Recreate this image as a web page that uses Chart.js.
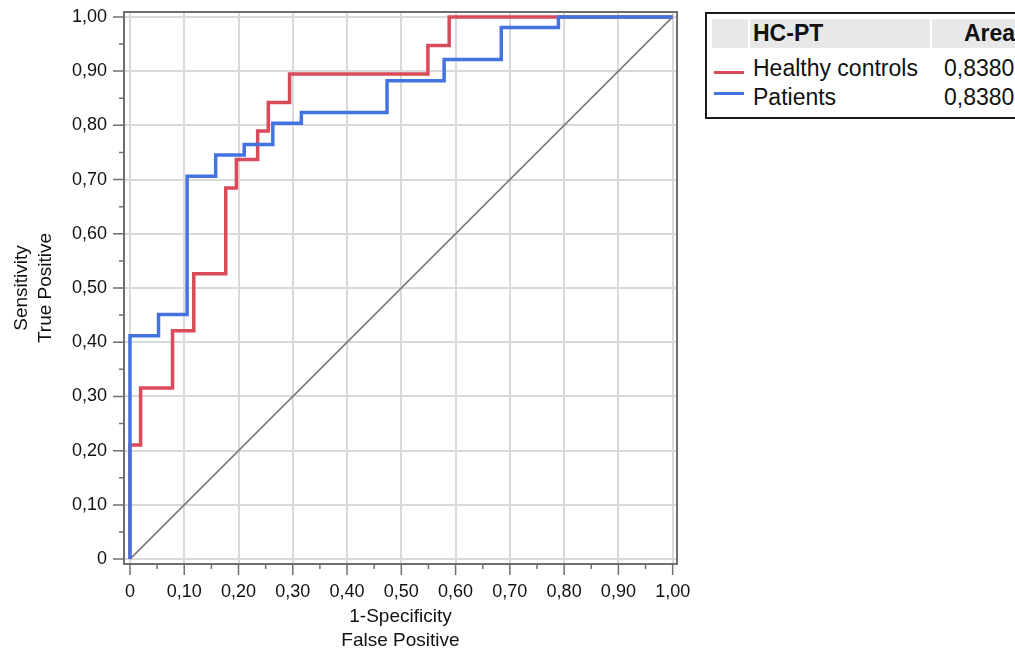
<!DOCTYPE html>
<html>
<head>
<meta charset="utf-8">
<script src="https://cdn.jsdelivr.net/npm/chart.js@4"></script>
<style>
    body { margin: 0; background: #fff; overflow: hidden; width: 1015px; height: 653px; font-family: "Liberation Sans", Arial, sans-serif; }
    #wrap { position: absolute; left: 0; top: 0; width: 700px; height: 653px; }
    #legenda { position: absolute; left: 705px; top: 12px; width: 420px; height: 107px; border: 2px solid #1a1a1a; box-sizing: border-box; }
    #legenda span { position: absolute; font-size: 23px; line-height: 23px; color: #111; white-space: nowrap; }
    .cab { position: absolute; top: 5px; height: 29px; background: #e8e8e8; }
    .amostra { position: absolute; left: 7px; width: 30px; height: 3px; }
</style>
</head>
<body>
<div id="wrap"><canvas id="roc"></canvas></div>
<div id="legenda"></div>

<script>
// Curvas ROC (1-especificidade, sensibilidade)
const fprHC = [0, 0, 0.0196, 0.0784, 0.1176, 0.1765, 0.1961, 0.2353, 0.2549, 0.2941, 0.5490, 0.5882, 1];
const tprHC = [0, 0.2105, 0.3158, 0.4211, 0.5263, 0.6842, 0.7368, 0.7895, 0.8421, 0.8947, 0.9474, 1, 1];
const fprPT = [0, 0, 0.0526, 0.1053, 0.1579, 0.2105, 0.2632, 0.3158, 0.4737, 0.5789, 0.6842, 0.7895, 1];
const tprPT = [0, 0.4118, 0.4510, 0.7059, 0.7451, 0.7647, 0.8039, 0.8235, 0.8824, 0.9216, 0.9804, 1, 1];
const diagonal = [0, 1];

// Legenda
const nomesSeries = ["Healthy controls", "Patients"];
const areas = ["0,8380", "0,8380"];
const coresSeries = ["#d94a5b", "#4373e0"];

// Ticks
const tickValores = [0, 0.1, 0.2, 0.3, 0.4, 0.5, 0.6, 0.7, 0.8, 0.9, 1];
const tickRotulos = ["0", "0,10", "0,20", "0,30", "0,40", "0,50", "0,60", "0,70", "0,80", "0,90", "1,00"];
const tickMenores = [0.05, 0.15, 0.25, 0.35, 0.45, 0.55, 0.65, 0.75, 0.85, 0.95];

function pontos(xs, ys) {
    return xs.map((x, i) => ({ x: x, y: ys[i] }));
}

function todosTicks() {
    return tickValores.concat(tickMenores).sort((a, b) => a - b).map((v) => ({ value: v }));
}

function rotulo(valor) {
    const i = tickValores.findIndex((v) => Math.abs(v - valor) < 1e-6);
    return i >= 0 ? tickRotulos[i] : "";
}

function corGrade(ctx) {
    const v = ctx.tick ? ctx.tick.value : 0;
    return tickValores.some((t) => Math.abs(t - v) < 1e-6) ? "#d9d9d9" : "rgba(0,0,0,0)";
}

// tira o espaço extra que o Chart.js reserva para os rótulos das pontas
function semPadding(scale) {
    scale.paddingTop = 0;
    scale.paddingBottom = 0;
    scale.paddingLeft = 0;
    scale.paddingRight = 0;
}

// moldura e marcas de tick (maiores e menores)
const molduraPlugin = {
    id: "moldura",
    beforeDatasetsDraw(chart) {
        const { ctx, chartArea, scales } = chart;
        ctx.save();
        ctx.strokeStyle = "#6f6f6f";
        ctx.lineWidth = 2;
        ctx.strokeRect(chartArea.left, chartArea.top, chartArea.right - chartArea.left, chartArea.bottom - chartArea.top);
        ctx.lineWidth = 1.5;
        ctx.beginPath();
        tickValores.concat(tickMenores).forEach((v) => {
            const maior = tickValores.includes(v);
            const len = maior ? 11 : 5;
            const px = scales.x.getPixelForValue(v);
            ctx.moveTo(px, chartArea.bottom);
            ctx.lineTo(px, chartArea.bottom + len);
            const py = scales.y.getPixelForValue(v);
            ctx.moveTo(chartArea.left, py);
            ctx.lineTo(chartArea.left - len, py);
        });
        ctx.stroke();
        ctx.restore();
    }
};

const fonteTick = { family: "'Liberation Sans', Arial, sans-serif", size: 18 };
const fonteTitulo = { family: "'Liberation Sans', Arial, sans-serif", size: 19, lineHeight: 24 / 19 };

new Chart(document.getElementById("roc"), {
    type: "scatter",
    data: {
        datasets: [
            {
                label: nomesSeries[1],
                data: pontos(fprPT, tprPT),
                showLine: true,
                stepped: "before",
                borderColor: coresSeries[1],
                borderWidth: 3.5,
                pointRadius: 0,
                order: 0
            },
            {
                label: nomesSeries[0],
                data: pontos(fprHC, tprHC),
                showLine: true,
                stepped: "before",
                borderColor: coresSeries[0],
                borderWidth: 3.5,
                pointRadius: 0,
                order: 1
            },
            {
                label: "diagonal",
                data: pontos(diagonal, diagonal),
                showLine: true,
                borderColor: "#7a7a7a",
                borderWidth: 1.6,
                pointRadius: 0,
                order: 2
            }
        ]
    },
    plugins: [molduraPlugin],
    options: {
        responsive: true,
        maintainAspectRatio: false,
        animation: false,
        layout: { padding: { top: 12, right: 23, left: 0, bottom: 0 } },
        plugins: {
            legend: { display: false },
            tooltip: { enabled: false }
        },
        scales: {
            x: {
                type: "linear",
                min: -0.011,
                max: 1.008,
                afterBuildTicks: (scale) => { scale.ticks = todosTicks(); },
                afterFit: (scale) => { scale.height = 89; semPadding(scale); },
                grid: { color: corGrade, lineWidth: 2, drawTicks: false },
                border: { display: false },
                ticks: {
                    callback: rotulo,
                    autoSkip: false,
                    maxRotation: 0,
                    padding: 17,
                    color: "#111",
                    font: fonteTick
                },
                title: {
                    display: true,
                    text: ["1-Specificity", "False Positive"],
                    color: "#111",
                    font: fonteTitulo,
                    padding: { top: 0, bottom: 0 }
                }
            },
            y: {
                type: "linear",
                min: -0.009,
                max: 1.009,
                afterBuildTicks: (scale) => { scale.ticks = todosTicks(); },
                afterFit: (scale) => { scale.width = 124; semPadding(scale); },
                grid: { color: corGrade, lineWidth: 2, drawTicks: false },
                border: { display: false },
                ticks: {
                    callback: rotulo,
                    autoSkip: false,
                    padding: 17,
                    color: "#111",
                    font: fonteTick
                },
                title: {
                    display: true,
                    text: ["Sensitivity", "True Positive"],
                    color: "#111",
                    font: fonteTitulo,
                    padding: { top: 10, bottom: 0 }
                }
            }
        }
    }
});

// Monta a legenda (tabela HC-PT / Area)
const legenda = document.getElementById("legenda");
let html = "";
html += '<div class="cab" style="left:5px;width:36px"></div>';
html += '<div class="cab" style="left:43px;width:180px"></div>';
html += '<div class="cab" style="left:225px;width:200px"></div>';
html += '<span style="left:46px;top:8px;font-weight:bold">HC-PT</span>';
html += '<span style="left:257px;top:8px;font-weight:bold">Area</span>';
const topos = [43, 72];
const linhas = [57, 78];
nomesSeries.forEach((nome, i) => {
    html += '<div class="amostra" style="top:' + linhas[i] + 'px;background:' + coresSeries[i] + '"></div>';
    html += '<span style="left:46px;top:' + topos[i] + 'px">' + nome + '</span>';
    html += '<span style="left:237px;top:' + topos[i] + 'px">' + areas[i] + '</span>';
});
legenda.innerHTML = html;
</script>
</body>
</html>
